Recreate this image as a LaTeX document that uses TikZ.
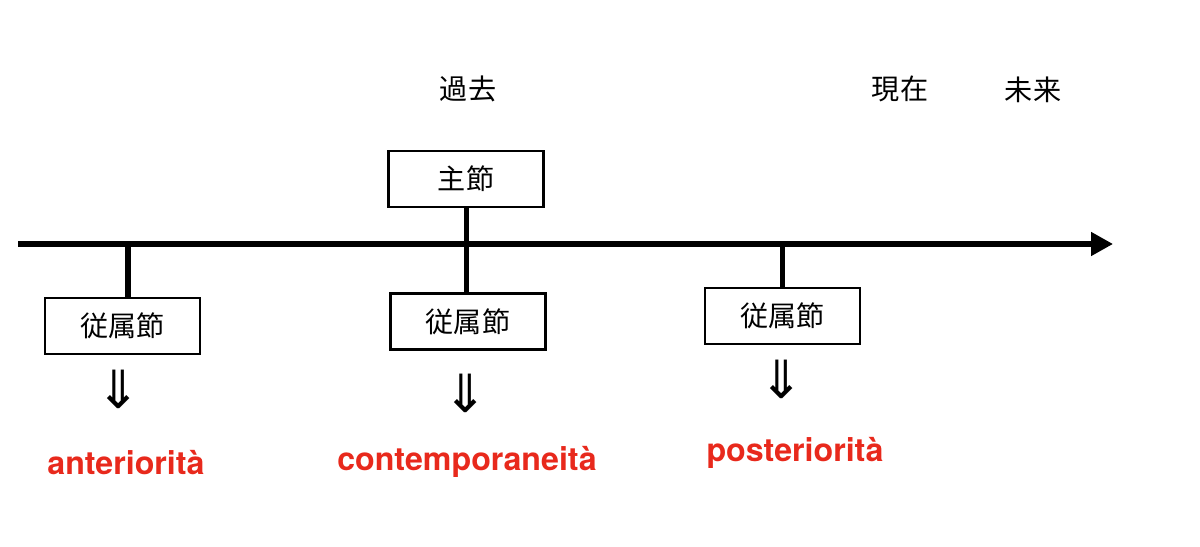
\documentclass[tikz,border=0pt]{standalone}
\usepackage{fontspec}
\setmainfont{Noto Sans CJK JP}
\newfontfamily\latfont{TeX Gyre Heros}
\newfontfamily\symfont{DejaVu Sans}
\usepackage{xcolor}
\usepackage{tikz}
\usetikzlibrary{arrows.meta}
\definecolor{ink}{HTML}{000000}
\definecolor{hot}{HTML}{E8291C}
\tikzset{
  axis/.style={draw=ink, line width=2.85pt},
  tick/.style={draw=ink, line width=2.85pt},
  clause/.style={draw=ink, line width=1.4pt, minimum width=3.1cm, minimum height=1.12cm, inner sep=0pt, font=\fontsize{16}{18}\selectfont},
  era/.style={text=ink, font=\fontsize{16}{18}\selectfont},
  imply/.style={text=ink, inner sep=0pt, font=\symfont\fontsize{30}{32}\selectfont},
  rel/.style={text=hot, font=\latfont\bfseries\fontsize{18.3}{20}\selectfont},
}
\begin{document}
\begin{tikzpicture}[x=0.02cm,y=-0.02cm]
  \useasboundingbox (0,0) rectangle (1200,547);
  \coordinate (start) at (18,244);
  \coordinate (end) at (1113,244);
  \coordinate (t1) at (128,244);
  \coordinate (t2) at (466,244);
  \coordinate (t3) at (782,244);
  \node[era] (past) at (468,89) {過去};
  \node[era] (now) at (900,89) {現在};
  \node[era] (future) at (1033,90) {未来};
  \node[clause] (main) at (466,179) {主節};
  \node[clause] (sub1) at (122.5,326) {従属節};
  \node[clause] (sub2) at (468,321.5) {従属節};
  \node[clause] (sub3) at (782.5,316) {従属節};
  \draw[axis,-{Triangle[length=12.5pt,width=13pt]}] (start) -- (end);
  \draw[tick] (main.south -| t2) -- (t2 |- sub2.north);
  \draw[tick] (t1) -- (t1 |- sub1.north);
  \draw[tick] (t3) -- (t3 |- sub3.north);
  \node[imply] (i1) at (119,389) {⇓};
  \node[imply] (i2) at (466,393) {⇓};
  \node[imply] (i3) at (782,379) {⇓};
  \node[rel] (ante) at (126,463) {anteriorità};
  \node[rel] (cont) at (467,462) {contemporaneità};
  \node[rel] (post) at (795,453) {posteriorità};
\end{tikzpicture}
\end{document}
